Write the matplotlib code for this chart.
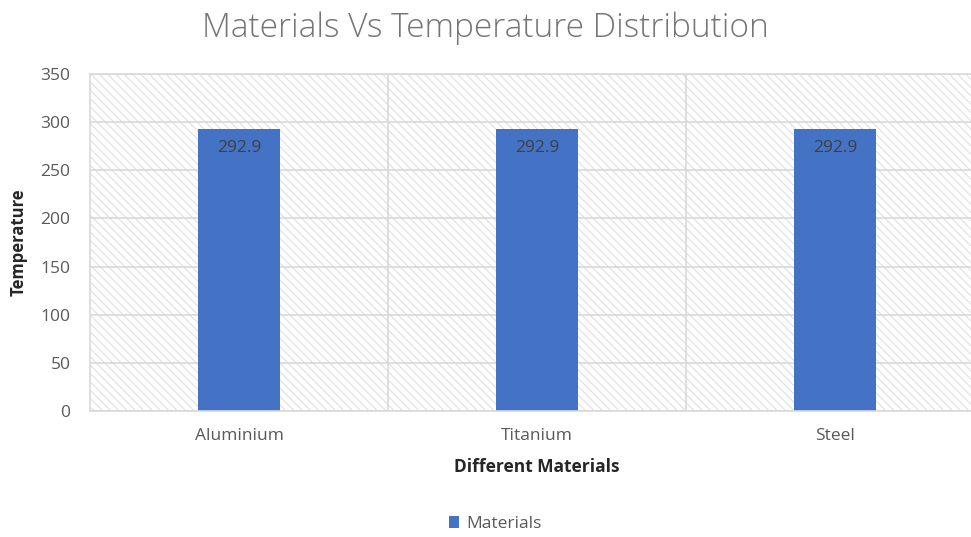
import matplotlib.pyplot as plt
from matplotlib.patches import Rectangle
import numpy as np

materials = ['Aluminium', 'Titanium', 'Steel']
temperature = [292.9, 292.9, 292.9]
yticks = [0, 50, 100, 150, 200, 250, 300, 350]

plt.rcParams['font.family'] = ['Open Sans', 'DejaVu Sans']
plt.rcParams['hatch.linewidth'] = 0.7

fig = plt.figure(figsize=(9.71, 5.37), dpi=100)
# plot area runs a little past the right edge of the figure
ax = fig.add_axes([0.0927, 0.2346, 0.9207, 0.6276])

x = np.arange(len(materials))
ax.set_xlim(-0.5, len(materials) - 0.5)
ax.set_ylim(0, 350)

# hatched plot-area background
ax.add_patch(Rectangle((0, 0), 1, 1, transform=ax.transAxes, facecolor='white',
                       edgecolor='#dcdcdc', linewidth=0, hatch='\\\\\\\\', zorder=0))

ax.set_axisbelow(True)
ax.yaxis.grid(True, color='#d9d9d9', linewidth=1.2)
for b in np.arange(0.5, len(materials) - 0.5, 1):
    ax.axvline(b, color='#d9d9d9', linewidth=1.2, zorder=0.5)

bars = ax.bar(x, temperature, width=0.272, color='#4472C4', label='Materials', zorder=2)
for rect, v in zip(bars, temperature):
    ax.text(rect.get_x() + rect.get_width() / 2, v - 11, '%.1f' % v,
            ha='center', va='top', fontsize=12.5, color='#404040', zorder=3)

for s in ax.spines.values():
    s.set_color('#d9d9d9')
    s.set_linewidth(1.2)

ax.set_xticks(x)
ax.set_xticklabels(materials)
ax.set_yticks(yticks)
ax.tick_params(axis='both', length=0, labelsize=12.5, labelcolor='#595959')
ax.tick_params(axis='x', pad=12)
ax.tick_params(axis='y', pad=14)

ax.set_xlabel('Different Materials', fontsize=12.5, fontweight='bold', color='#262626', labelpad=10)
ax.set_ylabel('Temperature', fontsize=12, fontweight='bold', color='#262626', labelpad=9)

fig.text(0.5, 0.948, 'Materials Vs Temperature Distribution', ha='center', va='center',
         fontsize=24, color='#757575', fontweight='light')

fig.legend(loc='center', bbox_to_anchor=(0.51, 0.024), frameon=False, fontsize=12.5,
           handlelength=0.6, handleheight=0.6, handletextpad=0.4, labelcolor='#595959',
           borderpad=0.2)

fig.savefig('out.png', dpi=100)
